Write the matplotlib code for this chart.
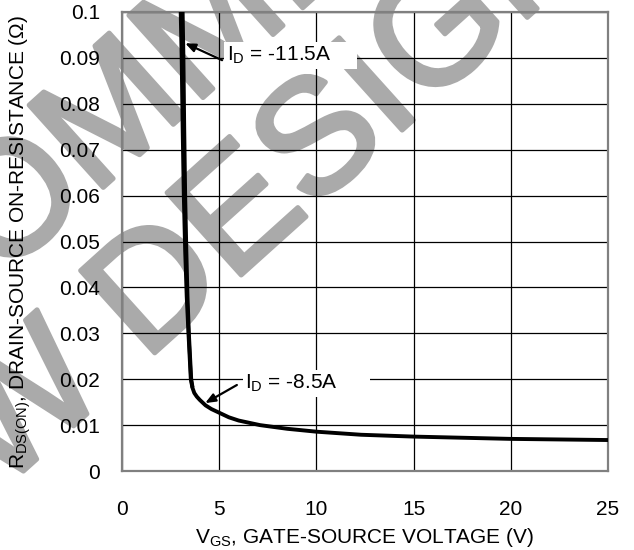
import matplotlib
matplotlib.use("Agg")
import matplotlib.pyplot as plt
import matplotlib.patheffects as pe

# R_DS(ON) vs V_GS
vgs_85 = [3.02, 3.07, 3.12, 3.18, 3.25, 3.33, 3.42, 3.48, 3.54, 3.62, 3.72, 3.85,
          4.0, 4.3, 4.6, 5.05, 5.5, 6.0, 7.1, 8.5, 10.0, 12.3, 15.0, 20.0, 25.0]
rds_85 = [0.100, 0.090, 0.075, 0.060, 0.048, 0.038, 0.030, 0.025, 0.0200, 0.0182,
          0.0170, 0.0162, 0.0155, 0.0143, 0.0135, 0.0126, 0.0117, 0.0110, 0.0100,
          0.0092, 0.00857, 0.0079, 0.0075, 0.0070, 0.00675]
vgs_115 = [3.12, 3.16, 3.20, 3.25, 3.31, 3.37, 3.44, 3.50, 3.56, 3.63]
rds_115 = [0.100, 0.090, 0.075, 0.060, 0.048, 0.038, 0.030, 0.025, 0.0200, 0.0182]

x_ticks = [0, 5, 10, 15, 20, 25]
y_ticks = [0, 0.01, 0.02, 0.03, 0.04, 0.05, 0.06, 0.07, 0.08, 0.09, 0.1]
y_ticklabels = ["0", "0.01", "0.02", "0.03", "0.04", "0.05", "0.06", "0.07", "0.08", "0.09", "0.1"]

plt.rcParams["font.family"] = ["Liberation Sans", "DejaVu Sans"]
plt.rcParams["mathtext.fontset"] = "custom"
plt.rcParams["mathtext.rm"] = "Liberation Sans"
plt.rcParams["mathtext.it"] = "Liberation Sans"

FS = 15
WM_GRAY = "#aaaaaa"

fig = plt.figure(figsize=(6.34, 5.5), dpi=100)
ax = fig.add_axes([0.1924, 0.1436, 0.7666, 0.8346])
ax.set_facecolor("none")

# watermark behind the axes
wm = dict(fontsize=116, color=WM_GRAY, rotation=42, rotation_mode="anchor",
          ha="left", va="baseline", zorder=-1,
          path_effects=[pe.withStroke(linewidth=3.5, foreground=WM_GRAY)])
fig.text(-0.2645, -0.1695, "NEW DESIGN", **wm)
fig.text(-0.846, -0.388, "NOT RECOMMENDED FOR", **wm)

ax.plot(vgs_85, rds_85, color="black", lw=2.8, solid_capstyle="butt", zorder=3)
ax.plot(vgs_115, rds_115, color="black", lw=2.8, solid_capstyle="butt", zorder=3)

ax.set_xlim(0, 25)
ax.set_ylim(0, 0.1)
ax.set_xticks(x_ticks)
ax.set_yticks(y_ticks)
ax.set_yticklabels(y_ticklabels)
ax.tick_params(length=0, labelsize=FS)
ax.tick_params(axis="x", pad=21)
ax.tick_params(axis="y", pad=16)
ax.grid(True, color="black", lw=0.9)
ax.set_axisbelow(True)
for s in ax.spines.values():
    s.set_color("#808080")
    s.set_linewidth(1.6)

ax.set_xlabel(r"V$_{\mathregular{GS}}$, GATE-SOURCE VOLTAGE (V)", fontsize=FS, va="center")
ax.set_ylabel(r"R$_{\mathregular{DS(ON)}}$, DRAIN-SOURCE ON-RESISTANCE (Ω)", fontsize=FS, va="center")
ax.xaxis.set_label_coords(0.5, -0.1438)
ax.yaxis.set_label_coords(-0.21, 0.5)

arrow = dict(arrowstyle="-|>,head_length=0.6,head_width=0.25", color="black", lw=1.6, shrinkA=0, shrinkB=0)
box = dict(facecolor="white", edgecolor="none", pad=2)
ax.annotate("", xy=(3.25, 0.0932), xytext=(5.15, 0.0895), arrowprops=arrow, zorder=4)
ax.text(5.4, 0.0905, r"I$_{\mathregular{D}}$ = -11.5A     ", fontsize=FS, va="center", bbox=box, zorder=4)
ax.annotate("", xy=(4.28, 0.0148), xytext=(5.91, 0.01874), arrowprops=arrow, zorder=4)
ax.text(6.34, 0.019, r"I$_{\mathregular{D}}$ = -8.5A      ", fontsize=FS, va="center", bbox=box, zorder=4)

fig.savefig("out.png", dpi=100)
